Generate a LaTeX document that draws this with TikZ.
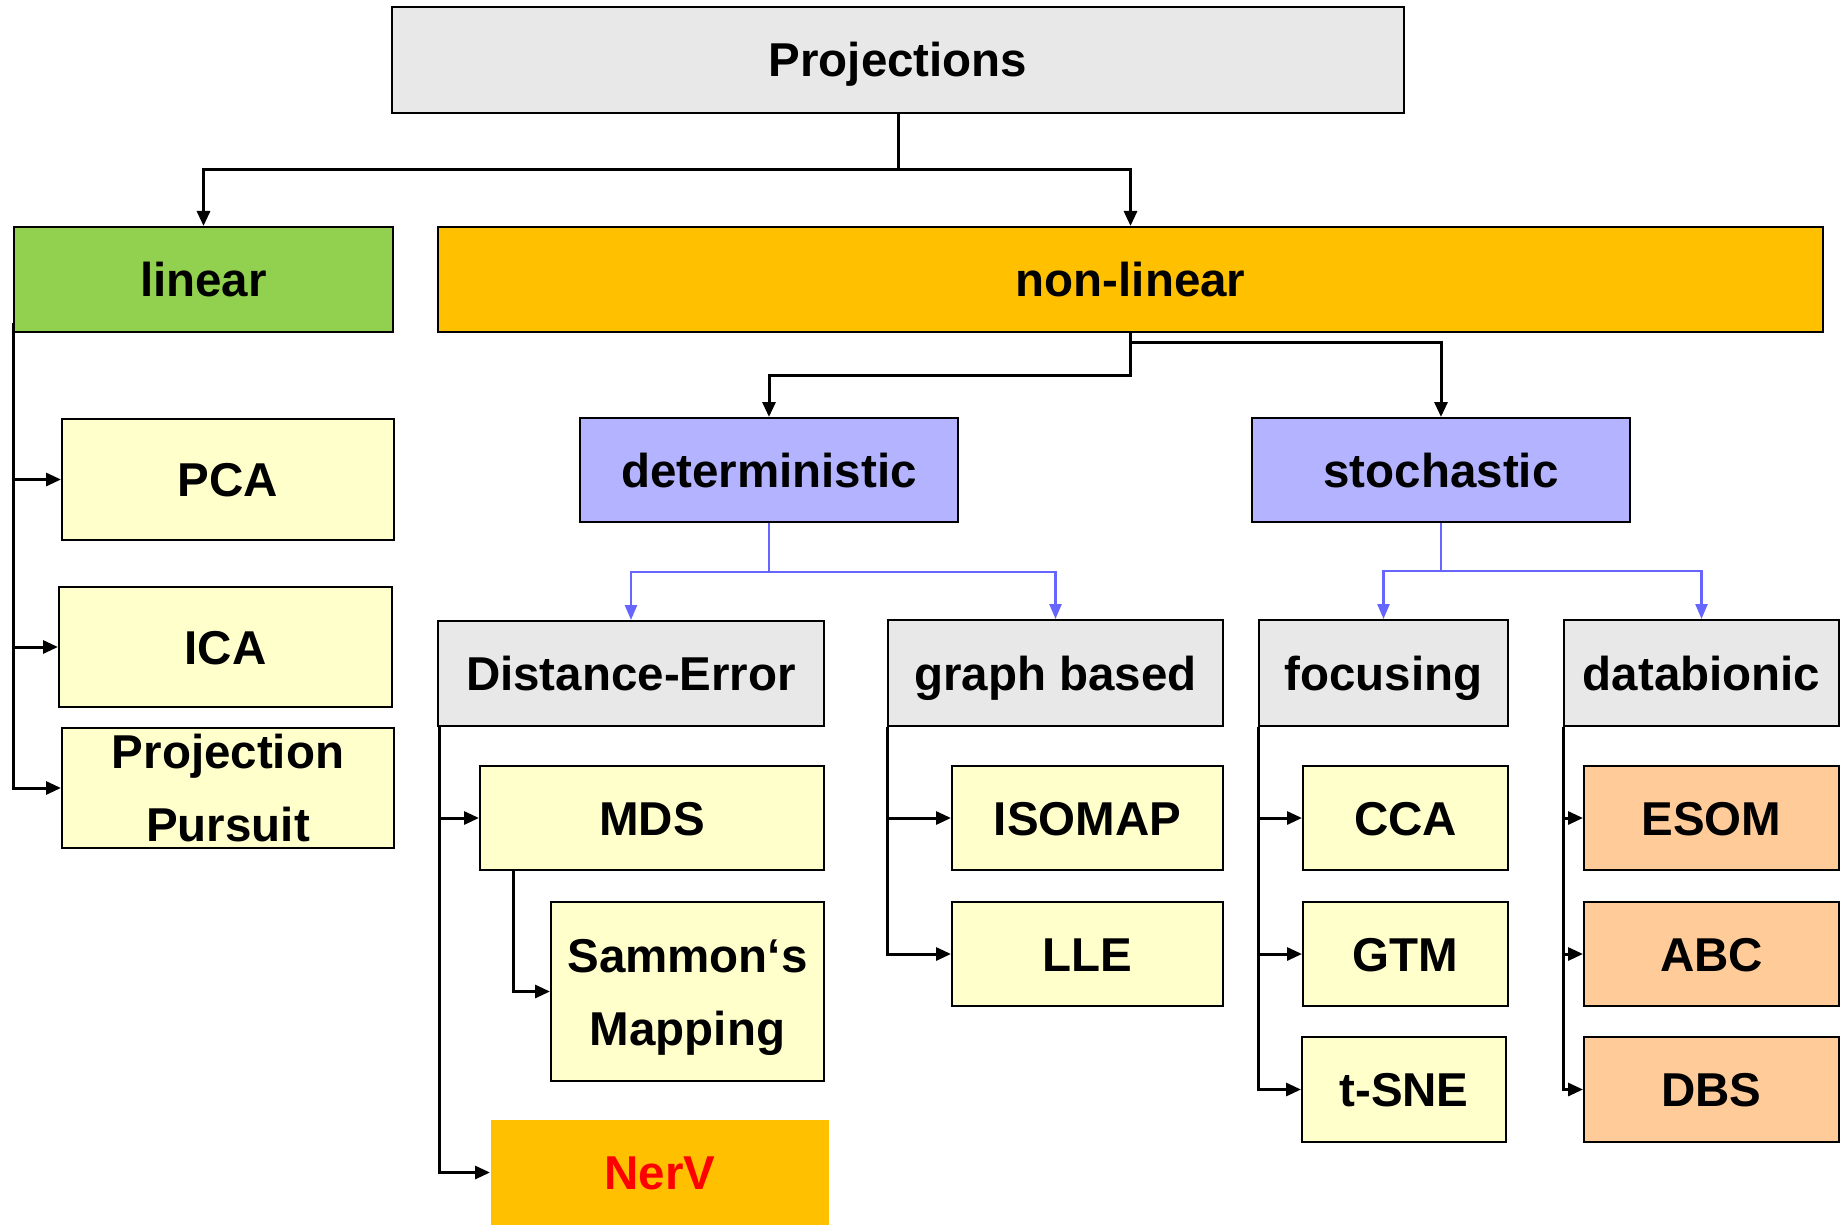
\documentclass[tikz,border=0pt]{standalone}
\usepackage{fontspec}
\setmainfont{Liberation Sans}
\usetikzlibrary{arrows.meta}
\definecolor{greybox}{HTML}{E8E8E8}
\definecolor{greenbox}{HTML}{92D050}
\definecolor{orangebox}{HTML}{FFC000}
\definecolor{lavbox}{HTML}{B3B3FF}
\definecolor{yelbox}{HTML}{FFFFCC}
\definecolor{peachbox}{HTML}{FFCC99}
\definecolor{blueline}{HTML}{6666FF}
\begin{document}
\begin{tikzpicture}[x=1pt,y=-1pt,
  box/.style n args={2}{draw=black, line width=2pt, inner sep=0pt,
    minimum width=#1pt, minimum height=#2pt,
    font=\fontsize{47.5}{73}\selectfont\bfseries,
    text height=34pt, text depth=0pt, align=center},
  twoline/.style n args={2}{font=\fontsize{47.5}{#1}\selectfont\bfseries,
    text height=#2pt},
  arr/.style={line width=3pt, -{Triangle[length=15pt,width=13pt]}},
  barr/.style={draw=blueline, line width=2.5pt, -{Triangle[length=15pt,width=12pt]}, color=blueline},
  plain/.style={line width=3pt}]
\useasboundingbox (0,0) rectangle (1841,1225);
% level 0/1
\node[box={1012}{106}, fill=greybox] (proj) at (898,60) {Projections};
\node[box={379}{105}, fill=greenbox] (linear) at (203.5,279.5) {linear};
\node[box={1385}{105}, fill=orangebox] (nonlinear) at (1130.5,279.5) {non-linear};
% level 2
\node[box={378}{104}, fill=lavbox] (det) at (769,470) {deterministic};
\node[box={378}{104}, fill=lavbox] (stoch) at (1441,470) {stochastic};
% linear children
\node[box={332}{121}, fill=yelbox] (pca) at (228,479.5) {PCA};
\node[box={333}{120}, fill=yelbox] (ica) at (225.5,647) {ICA};
\node[box={332}{120}, fill=yelbox, twoline={73}{107}, text depth=0pt] (pp) at (228,788) {Projection\\Pursuit};
% level 3
\node[box={386}{105}, fill=greybox] (de) at (631,673.5) {Distance-Error};
\node[box={335}{106}, fill=greybox] (gb) at (1055.5,673) {graph based};
\node[box={249}{106}, fill=greybox] (foc) at (1383.5,673) {focusing};
\node[box={275}{106}, fill=greybox] (datab) at (1701.5,673) {databionic};
% distance-error children
\node[box={344}{104}, fill=yelbox] (mds) at (652,818) {MDS};
\node[box={273}{179}, fill=yelbox, twoline={73}{107}, text depth=0pt] (sam) at (687.5,991.5) {Sammon‘s\\Mapping};
\node[box={338}{105}, fill=orangebox, draw=none, text=red] (nerv) at (660,1172.5) {NerV};
% graph based children
\node[box={271}{104}, fill=yelbox] (isomap) at (1087.5,818) {ISOMAP};
\node[box={271}{104}, fill=yelbox] (lle) at (1087.5,954) {LLE};
% focusing children
\node[box={205}{104}, fill=yelbox] (cca) at (1405.5,818) {CCA};
\node[box={205}{104}, fill=yelbox] (gtm) at (1405.5,954) {GTM};
\node[box={204}{105}, fill=yelbox] (tsne) at (1404,1089.5) {t-SNE};
% databionic children
\node[box={255}{104}, fill=peachbox] (esom) at (1711.5,818) {ESOM};
\node[box={255}{104}, fill=peachbox] (abc) at (1711.5,954) {ABC};
\node[box={255}{105}, fill=peachbox] (dbs) at (1711.5,1089.5) {DBS};
% junctions
\coordinate (j0) at (898,170);
\coordinate (j1) at (1130.5,375);
\coordinate (j2) at (1130.5,342);
\coordinate (j3) at (769,572);
\coordinate (j4) at (1441,571);
% top connectors
\draw[plain] (proj.south) -- (j0);
\draw[arr] (j0) -| (linear.north);
\draw[arr] (j0) -| (nonlinear.north);
\draw[arr] (nonlinear.south) -- (j1) -| (det.north);
\draw[arr] (j2) -| (stoch.north);
% blue connectors
\draw[barr] (det.south) -- (j3) -| (de.north);
\draw[barr] (j3) -| (gb.north);
\draw[barr] (stoch.south) -- (j4) -| (foc.north);
\draw[barr] (j4) -| (datab.north);
% linear spine
\draw[arr] ([yshift=10pt]linear.south west) |- (pca.west);
\draw[arr] ([yshift=10pt]linear.south west) |- (ica.west);
\draw[arr] ([yshift=10pt]linear.south west) |- (pp.west);
% distance-error spine
\draw[arr] ([xshift=2pt]de.south west) |- (mds.west);
\draw[arr] ([xshift=2pt]de.south west) |- (nerv.west);
\draw[arr] ([xshift=34pt]mds.south west) |- (sam.west);
% graph based spine
\draw[arr] (gb.south west) |- (isomap.west);
\draw[arr] (gb.south west) |- (lle.west);
% focusing spine
\draw[arr] (foc.south west) |- (cca.west);
\draw[arr] (foc.south west) |- (gtm.west);
\draw[arr] (foc.south west) |- (tsne.west);
% databionic spine
\draw[arr] (datab.south west) |- (esom.west);
\draw[arr] (datab.south west) |- (abc.west);
\draw[arr] (datab.south west) |- (dbs.west);
\end{tikzpicture}
\end{document}
